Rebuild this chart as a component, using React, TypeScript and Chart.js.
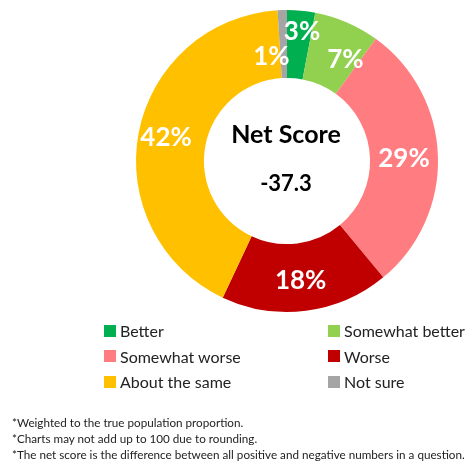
import React, { useEffect, useRef } from "react";
import { Chart, registerables } from "chart.js";
Chart.register(...registerables);

const categories = ["Better", "Somewhat better", "Somewhat worse", "Worse", "About the same", "Not sure"];
const values = [3, 7, 29, 18, 42, 1];
const colors = ["#00B050", "#92D050", "#FF7C80", "#C00000", "#FFC000", "#A5A5A5"];
const netScoreTitle = "Net Score";
const netScoreValue = "-37.3";
const legendOrder = [0, 1, 2, 3, 4, 5];
const footnotes = [
  "*Weighted to the true population proportion.",
  "*Charts may not add up to 100 due to rounding.",
  "*The net score is the difference between all positive and negative numbers in a question.",
];
// label nudges (style only)
const labelNudge: [number, number][] = [[4, -13], [12, 6], [0, 1], [-1, 4], [-6, -1], [-12, 13]];

const FONT = "Lato, 'Open Sans', sans-serif";

export default function App() {
  const ref = useRef<HTMLCanvasElement>(null);
  useEffect(() => {
    document.body.style.margin = "0";
    const labelPlugin = {
      id: "labels",
      afterDatasetsDraw(chart: any) {
        const ctx = chart.ctx;
        const meta = chart.getDatasetMeta(0);
        ctx.save();
        ctx.fillStyle = "#ffffff";
        ctx.font = `bold 26px ${FONT}`;
        ctx.textAlign = "center";
        ctx.textBaseline = "middle";
        meta.data.forEach((arc: any, i: number) => {
          const p = arc.getProps(["x", "y", "startAngle", "endAngle", "innerRadius", "outerRadius"], true);
          const a = (p.startAngle + p.endAngle) / 2;
          const r = (p.innerRadius + p.outerRadius) / 2;
          const x = p.x + Math.cos(a) * r + labelNudge[i][0];
          const y = p.y + Math.sin(a) * r + labelNudge[i][1];
          ctx.fillText(values[i] + "%", x, y);
        });
        const c = meta.data[0];
        ctx.fillStyle = "#000000";
        ctx.font = `bold 25px ${FONT}`;
        ctx.fillText(netScoreTitle, c.x - 1, c.y - 26);
        ctx.font = `bold 22px ${FONT}`;
        ctx.fillText(netScoreValue, c.x - 1, c.y + 23);
        ctx.restore();
      },
    };
    const chart = new Chart(ref.current!, {
      type: "doughnut",
      data: {
        labels: categories,
        datasets: [{ data: values, backgroundColor: colors, borderWidth: 0 }],
      },
      options: {
        responsive: false,
        animation: false,
        cutout: "55%",
        layout: { padding: { left: 136, right: 32, top: 10, bottom: 149 } },
        plugins: { legend: { display: false }, tooltip: { enabled: false } },
      },
      plugins: [labelPlugin],
    });
    return () => chart.destroy();
  }, []);

  const legendItem = (i: number, left: number, top: number) => (
    <div key={i} style={{ position: "absolute", left, top, display: "flex", alignItems: "center", fontFamily: FONT, fontSize: 16, color: "#222", whiteSpace: "nowrap" }}>
      <span style={{ display: "inline-block", width: 12, height: 12, background: colors[i], marginRight: 4 }} />
      {categories[i]}
    </div>
  );

  return (
    <div style={{ position: "relative", width: 470, height: 461, background: "#fff", overflow: "hidden" }}>
      <canvas ref={ref} width={470} height={461} style={{ position: "absolute", left: 0, top: 0 }} />
      {legendOrder.map((i, k) => legendItem(i, k % 2 === 0 ? 104 : 328, 321 + Math.floor(k / 2) * 25.5))}
      <div style={{ position: "absolute", left: 12, top: 415, fontFamily: FONT, fontSize: 12.3, lineHeight: "16px", color: "#222", whiteSpace: "nowrap", transform: "scaleX(0.95)", transformOrigin: "left top" }}>
        {footnotes.map((f, i) => <div key={i}>{f}</div>)}
      </div>
    </div>
  );
}
